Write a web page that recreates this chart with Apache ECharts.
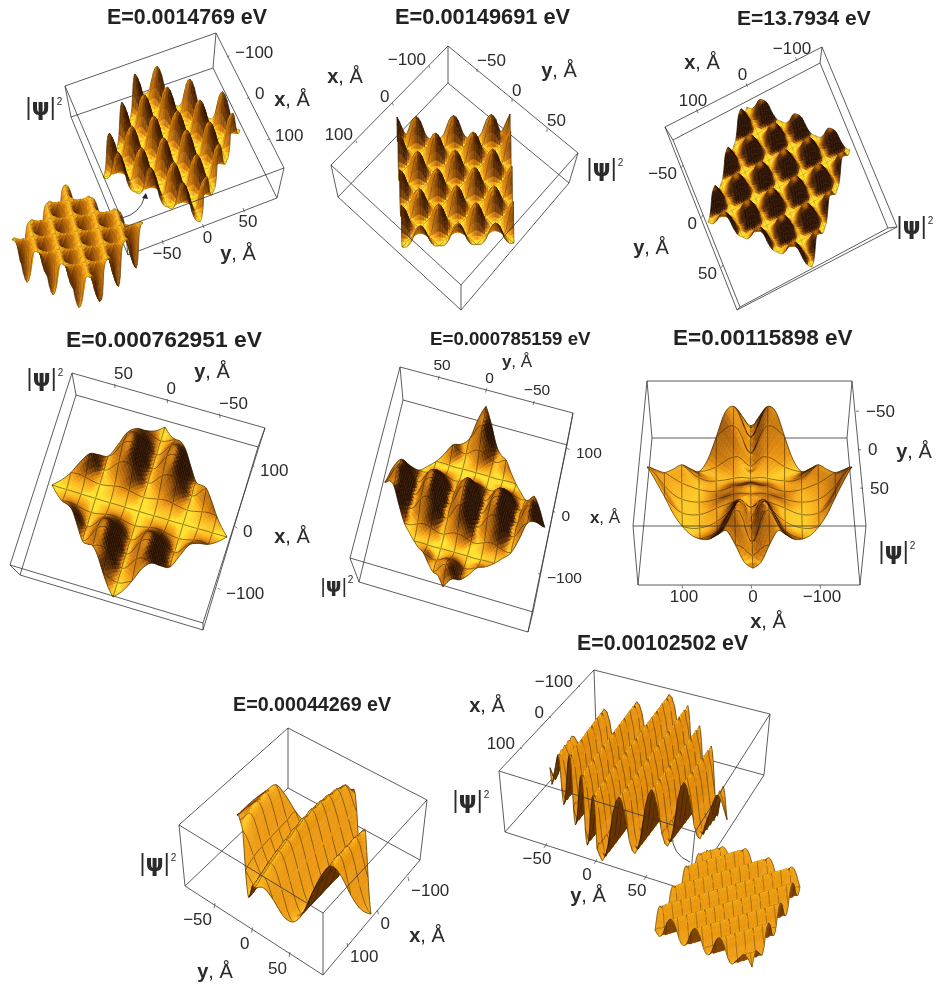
<!DOCTYPE html>
<html><head><meta charset="utf-8">
<style>html,body{margin:0;padding:0;background:#fff}#c{width:938px;height:985px}</style>
<script src="https://cdn.jsdelivr.net/npm/echarts@6/dist/echarts.min.js"></script>
</head><body><div id="c"></div>
<script>
// ---- read-off surface samples. digit rows: 0..9 of full height; number rows: 0..100 of full height
const surf1 = [
"0027972000279720002797200","0015751000157510001575100","2101210121012101210121012","7510001575100015751000157",
"9720002797200027972000279","7510001575100015751000157","2101210121012101210121012","0015751000157510001575100",
"0027972000268620002797200","0015751000157510001575100","2101210121012101210121012","7510001575100015751000157",
"9720002797200027972000279","7510001575100015751000157","2101210121012101210121012","0015751000157510001575100",
"0026862000279720002686200","0015751000157510001575100","2101210121012101210121012","7510001575100015751000157",
"8620002686200026862000268","7510001575100015751000157","2101210121012101210121012","0015751000157510001575100",
"0027972000279720002797200"];
const surf2 = [
"9527972000279720002797259","5015751000157510001575105","3101210121012101210121013","7510001575100015751000157",
"9720002797200027972000279","7510001575100015751000157","2101210121012101210121012","0015751000157510001575100",
"0027972000279720002797200","0015751000157510001575100","2101210121012101210121012","7510001575100015751000157",
"9720002797200027972000279","7510001575100015751000157","2101210121012101210121012","0015751000157510001575100",
"0026862000279720002686200","0015751000157510001575100","2101210121012101210121012","7510001575100015751000157",
"9720002797200027972000279","7510001575100015751000157","2101210121012101210121012","0015641000157510001465100",
"0026862000268620002686200"];
const surf3 = [
"0038983000389830003898300","0026862000268620002686200","3101310131013101310131013","8610001686100016861000168",
"9830003898300038983000389","8610001686100016861000168","3101310131013101310131013","0026862000268620002686200",
"0038983000389830003898300","0026862000268620002686200","3101310131013101310131013","8610001686100016861000168",
"9830003898300038983000389","8610001686100016861000168","3101310131013101310131013","0026862000268620002686200",
"0038983000389830003898300","0026862000268620002686200","3101310131013101310131013","8610001686100016861000168",
"9830003898300038983000389","8610001686100016861000168","3101310131013101310131013","0026862000268620002686200",
"0038983000389830003898300"];
const surf4 = [
[0,4,25,54,58,26,0,25,50,36,11,1,0],
[4,0,16,58,86,72,25,0,11,11,3,0,1],
[25,16,0,26,72,83,50,11,0,1,0,3,11],
[54,58,26,0,25,50,36,11,1,0,1,11,36],
[58,86,72,25,0,11,11,3,0,1,0,11,50],
[26,72,83,50,11,0,1,0,3,11,11,0,25],
[0,25,50,36,11,1,0,1,11,36,50,25,0],
[25,0,11,11,3,0,1,0,11,50,83,72,26],
[50,11,0,1,0,3,11,11,0,25,72,86,58],
[36,11,1,0,1,11,36,50,25,0,26,58,54],
[11,3,0,1,0,11,50,83,72,26,0,16,25],
[1,0,3,11,11,0,25,72,86,58,16,0,4],
[0,1,11,36,50,25,0,26,58,54,25,4,0]];
const surf5 = [
[95,64,15,11,25,10,0,0,3,36,76,63,28],
[64,76,43,7,2,0,0,11,10,15,68,95,63],
[15,43,33,7,0,0,11,48,57,18,19,68,76],
[11,7,7,0,0,3,10,57,90,71,18,15,36],
[25,2,0,0,14,36,15,18,71,90,57,10,4],
[10,0,0,3,36,76,68,19,18,57,48,14,1],
[0,0,11,10,15,68,95,68,15,10,14,3,0],
[0,11,48,57,18,19,68,76,36,4,1,0,5],
[3,10,57,90,71,18,15,36,19,2,0,1,18],
[36,15,18,71,90,57,10,4,2,0,4,5,10],
[76,68,19,18,57,48,14,1,0,4,24,36,10],
[63,95,68,15,10,14,3,0,1,5,36,52,29],
[28,63,76,36,4,1,0,5,18,10,10,29,19]];
const surf6 = [
[15,45,72,72,42,14,5,20,37,40,45,60,75],
[45,20,50,60,36,12,6,14,24,26,30,42,60],
[72,50,14,40,28,12,8,10,14,16,18,24,42],
[72,60,40,12,18,12,10,10,12,12,12,14,22],
[42,36,28,18,12,14,18,16,16,14,10,8,10],
[14,12,12,12,14,22,24,24,24,20,12,6,4],
[5,6,8,10,18,24,24,28,30,26,16,8,6],
[20,14,10,10,16,24,28,20,40,40,30,18,14],
[37,24,14,12,16,24,30,40,16,58,62,40,30],
[40,26,16,12,14,20,26,40,58,20,70,70,45],
[45,30,18,12,10,12,16,30,62,70,14,48,30],
[60,42,24,14,8,6,8,18,40,70,48,12,10],
[75,60,42,22,10,4,6,14,30,45,30,10,8]];
const surf7 = [
[37,50,62,72,80,60,32,12,5,20,40,56,58],
[50,62,72,80,60,32,12,5,20,46,68,80,60],
[55,72,80,60,32,12,5,22,50,74,88,72,45],
[60,76,60,32,12,5,22,50,78,92,76,48,18],
[62,58,32,12,5,22,52,80,96,80,50,20,6],
[45,30,12,5,22,52,80,98,80,50,20,6,20],
[22,12,5,22,52,80,98,80,50,20,6,20,52],
[8,5,22,50,78,96,80,50,20,6,20,55,78],
[4,20,48,76,92,80,50,20,6,20,55,82,92],
[18,44,72,88,78,50,20,6,20,55,82,95,70],
[40,66,82,76,48,20,6,20,55,82,95,75,38],
[62,76,72,48,20,6,20,55,82,95,75,40,14],
[70,68,46,18,6,18,52,80,92,72,38,14,5]];
const surf8 = [
"2024652027972027972027972","0246520279720279720279720","2465202797202797202797202","4652027972027972027972027",
"6520279720279720279720279","5202797202797202797202797","2027972027972027972027972","0279720279720279720279720",
"2797202797202797202797202","7972027972027972027972027","9720279720279720279720279","7202797202797202797202797",
"2027972027972027972027972","0279720279720279720279720","2797202797202797202797202","7972027972027972027972027",
"9720279720279720279720279","7202797202797202797202797","2027972027972027972027972","0279720279720279720279720",
"2797202797202797202797202","7972027972027972027972024","9720279720279720279720246","7202797202797202797202465",
"2027972027972027972024652"];

const titles = ["E=0.0014769 eV","E=0.00149691 eV","E=13.7934 eV","E=0.000762951 eV","E=0.000785159 eV","E=0.00115898 eV","E=0.00044269 eV","E=0.00102502 eV"];
const xTicks = [[-100,0,100],[-100,0,100],[100,0,-100],[100,0,-100],[100,0,-100],[100,0,-100],[-100,0,100],[-100,0,100]];
const yTicks = [[-50,0,50],[-50,0,50],[-50,0,50],[50,0,-50],[50,0,-50],[-50,0,50],[-50,0,50],[-50,0,50]];

// ---- layout and styling (pixels on the page)
const titleLayout = [[107,21,21.4],[395,21,21.8],[737,22,21],[66,343,22.8],[430,342,18.7],[673,341,22.5],[233,708,19.7],[577,647,21.3]];
const boxes = [
 {up:[[65,86],[216,33],[284,168],[125,227]],lo:[[71,117],[213,68],[277,198],[128,255]]},
 {up:[[448,46],[578,153],[461,285],[331,165]],lo:[[448,83],[569,183],[461,310],[338,197]]},
 {up:[[665,127],[822,47],[897,227],[737,310]],lo:[[673,140],[820,63],[888,228],[740,307]]},
 {up:[[72,373],[265,428],[203,623],[10,565]],lo:[[76,395],[258,447],[203,630],[20,575]]},
 {up:[[400,367],[573,413],[533,612],[350,558]],lo:[[403,400],[567,445],[528,632],[359,582]]},
 {up:[[647,381],[852,381],[866,526],[633,526]],lo:[[652,438],[847,438],[860,585],[638,585]]},
 {up:[[288,728],[427,800],[323,913],[179,825]],lo:[[288,788],[420,860],[323,975],[185,886]]},
 {up:[[594,670],[770,714],[695,832],[499,771]],lo:[[596,729],[764,775],[689,891],[505,832]]}];
// axis: first and last tick on the frame, label alignment and offset
const xAxes = [
 {a:[227,57],b:[267,140],al:'left',off:[8,-4],fs:17},{a:[430,68],b:[357,143],al:'right',off:[-4,-8],fs:17},
 {a:[698,113],b:[797,61],al:'center',off:[-5,-12],fs:17},{a:[252,465],b:[218,588],al:'left',off:[8,6],fs:17},
 {a:[567,448],b:[538,573],al:'left',off:[9,6],fs:15.5},{a:[682,585],b:[820,585],al:'center',off:[2,12],fs:17},
 {a:[408,877],b:[347,943],al:'left',off:[3,14],fs:17},{a:[580,687],b:[522,749],al:'right',off:[-7,-5],fs:17}];
const yAxes = [
 {a:[162,240],b:[243,208],al:'center',off:[5,14],fs:17},{a:[477,72],b:[547,132],al:'left',off:[0,-11],fs:17},
 {a:[683,165],b:[723,265],al:'right',off:[-6,9],fs:17},{a:[115,388],b:[220,418],al:'left',off:[-1,-14],fs:17},
 {a:[438,380],b:[533,405],al:'center',off:[4,-14],fs:15.5},{a:[856,411],b:[860,488],al:'left',off:[10,1],fs:17},
 {a:[215,903],b:[290,952],al:'right',off:[-3,17],fs:17},{a:[547,843],b:[647,875],al:'center',off:[-10,16],fs:17}];
const names = [
 [[292,100],[238,254],[44,109]],[[345,77],[559,71],[605,170]],[[702,63],[651,248],[915,228]],[[292,537],[212,372],[45,380]],
 [[605,518],[517,362],[337,587]],[[768,622],[914,452],[897,553]],[[427,936],[215,972],[158,865]],[[487,706],[588,896],[471,802]]];
// mesh: every n-th line along each of the two frame directions; l: lighting (v darkens faces seen edge-on or from behind)
const surfaces = [
 {rows:surf1,A:[142,92],B:[240,130],C:[103,177],D:[200,222],h:[-1,-32],sub:2,mesh:[4,4],ma:.3,l:{a:.34,b:1,x:.28,y:0,hk:.25,p:.7,k:1,v:0}},
 {rows:surf1,A:[65,185],B:[143,223],C:[12,240],D:[90,278],h:[2,36],sub:2,mesh:[8,8],ma:.3,l:{a:.4,b:.86,x:.28,y:0,hk:.1,p:1,k:1,v:0}},
 {rows:surf2,A:[397,140],B:[510,137],C:[402,247],D:[514,243],h:[0,-23],sub:2,mesh:[4,4],ma:.45,l:{a:.34,b:1,x:.28,y:0,hk:.25,p:.7,k:1.4,v:0}},
 {rows:surf3,A:[747,107],B:[850,150],C:[708,222],D:[812,267],h:[-1,-14],sub:3,mesh:[8,8],ma:.25,l:{a:.3,b:1,x:.25,y:.25,hk:.52,p:.35,k:2.2,v:0}},
 {rows:surf4,A:[165,427],B:[227,537],C:[52,485],D:[113,597],h:[0,-24],sub:4,mesh:[2,2],ma:.7,l:{a:.3,b:1,x:.36,y:0,hk:.46,p:.35,k:1.7,v:0}},
 {rows:surf5,A:[487,433],B:[545,535],C:[385,490],D:[443,592],h:[-1,-28],sub:4,mesh:[2,2],ma:.7,l:{a:.3,b:1,x:.36,y:0,hk:.46,p:.35,k:1.6,v:0}},
 {rows:surf6,A:[751,437],B:[852,512],C:[647,512],D:[753,573],h:[0,-60],sub:4,mesh:[2,2],ma:.7,l:{a:.55,b:1,x:-.18,y:0,hk:.3,p:.5,k:1,v:.75}},
 {rows:surf7,A:[237,837],B:[354,824],C:[254,930],D:[371,917],h:[0,-60],sub:4,mesh:[2,6],ma:.65,l:{a:.75,b:.88,x:.1,y:0,hk:0,p:1,k:1,v:.6}},
 {rows:surf8,A:[550,781],B:[680,752],C:[597,862],D:[727,833],h:[0,-60],sub:2,mesh:[3,12],ma:.6,l:{a:.74,b:.85,x:.08,y:0,hk:0,p:1,k:1,v:.55}},
 {rows:surf8,A:[707,855],B:[800,892],C:[655,935],D:[752,972],h:[0,-22],sub:2,mesh:[3,12],ma:.45,l:{a:.74,b:.85,x:.08,y:0,hk:0,p:1,k:1,v:.45}}
];
const arrows = [{p:[[122,218],[140,214],[145,196]],tip:[[146,193],[142,198],[148,199]]},{p:[[690,862],[672,855],[672,834]],tip:[[671,831],[669,837],[675,836]]}];

const font = '"Liberation Sans",Arial,sans-serif';
const ink = '#2b2b2b';
const ramp = [[0,[43,17,0]],[.25,[94,46,3]],[.5,[181,104,12]],[.7,[232,146,15]],[.85,[251,182,29]],[1,[255,226,46]]];
function shade(t){t=Math.max(0,Math.min(1,t));
  for(let i=1;i<ramp.length;i++){ if(t<=ramp[i][0]){const a=ramp[i-1],b=ramp[i],k=(t-a[0])/(b[0]-a[0]);
    return 'rgb('+a[1].map((v,n)=>Math.round(v+(b[1][n]-v)*k)).join(',')+')';}}
  return 'rgb(255,226,46)';}
function heights(rows){return rows.map(r=>typeof r==='string'?r.split('').map(d=>+d/9):r.map(v=>v/100));}
function cr(a,b,c,d,t){return .5*(2*b+(c-a)*t+(2*a-5*b+4*c-d)*t*t+(3*b-a-3*c+d)*t*t*t);}
// smooth drawing surface through the read samples, used only to draw the cells between them
function smoothField(H,S){const R=H.length,C=H[0].length,g=(r,c)=>H[Math.max(0,Math.min(R-1,r))][Math.max(0,Math.min(C-1,c))],F=[];
  for(let i=0;i<=(R-1)*S;i++){const r=Math.min(R-2,Math.floor(i/S)),u=i/S-r,row=[];
    for(let j=0;j<=(C-1)*S;j++){const c=Math.min(C-2,Math.floor(j/S)),v=j/S-c,k=[-1,0,1,2].map(d=>cr(g(r+d,c-1),g(r+d,c),g(r+d,c+1),g(r+d,c+2),v));
      row.push(Math.max(-.02,cr(k[0],k[1],k[2],k[3],u)));}
    F.push(row);}
  return F;}
function area(q){let s=0;for(let i=0;i<4;i++){const n=(i+1)%4;s+=q[i][0]*q[n][1]-q[n][0]*q[i][1];}return s/2;}
function surfaceSeries(s){const H=heights(s.rows),R=H.length,C=H[0].length,S=s.sub,F=smoothField(H,S),L=s.l;
  const eC=[(s.B[0]-s.A[0])/((C-1)*S),(s.B[1]-s.A[1])/((C-1)*S)],eR=[(s.C[0]-s.A[0])/((R-1)*S),(s.C[1]-s.A[1])/((R-1)*S)];
  const det=eC[0]*eR[1]-eC[1]*eR[0],hLen=Math.hypot(s.h[0],s.h[1]),sign=s.h[1]>0?-1:1;
  const P=(i,j)=>{const u=j/((C-1)*S),v=i/((R-1)*S),f=F[i][j];
    return [s.A[0]*(1-u)*(1-v)+s.B[0]*u*(1-v)+s.C[0]*(1-u)*v+s.D[0]*u*v+s.h[0]*f,
            s.A[1]*(1-u)*(1-v)+s.B[1]*u*(1-v)+s.C[1]*(1-u)*v+s.D[1]*u*v+s.h[1]*f];};
  const cells=[];for(let r=0;r<R-1;r++)for(let c=0;c<C-1;c++)cells.push([r,c,H[r][c]]);
  return {type:'custom',coordinateSystem:'cartesian2d',silent:true,clip:false,animation:false,progressive:0,data:cells,encode:{x:1,y:0},
    renderItem(p,api){const r=api.value(0),c=api.value(1),kids=[];
      for(let a=0;a<S;a++)for(let b=0;b<S;b++){const i=r*S+a,j=c*S+b;
        const zc=(F[i][j+1]+F[i+1][j+1]-F[i][j]-F[i+1][j])/2*hLen*sign,zr=(F[i+1][j]+F[i+1][j+1]-F[i][j]-F[i][j+1])/2*hLen*sign;
        const zx=L.k*(zc*eR[1]-zr*eC[1])/det,zy=L.k*(eC[0]*zr-eR[0]*zc)/det,len=Math.sqrt(1+zx*zx+zy*zy);
        const fm=Math.max(0,(F[i][j]+F[i+1][j+1]+F[i][j+1]+F[i+1][j])/4);
        const raw=[P(i,j),P(i,j+1),P(i+1,j+1),P(i+1,j)];
        const ratio=Math.max(0,Math.min(1,area(raw)/det));
        const col=shade(L.a+(L.b-L.a)/len+L.x*zx/len+L.y*zy/len-L.hk*Math.pow(fm,L.p)-L.v*(1-ratio));
        kids.push({type:'polygon',shape:{points:raw.map(q=>api.coord(q))},style:{fill:col,stroke:col,lineWidth:.5}});}
      const line=(pts,al)=>kids.push({type:'polyline',shape:{points:pts.map(q=>api.coord(q))},style:{fill:null,stroke:'rgba(35,20,0,'+al+')',lineWidth:.7}});
      const mod=(n,m)=>((n%m)+m)%m;
      if(mod(c-r,s.mesh[0])===0){const q=[];for(let a=0;a<=S;a++)q.push(P(r*S+a,c*S+a));line(q,s.ma);}
      if(mod(r+c+1,s.mesh[1])===0){const q=[];for(let a=0;a<=S;a++)q.push(P((r+1)*S-a,c*S+a));line(q,s.ma);}
      const edge=Math.min(.8,s.ma+.2);
      if(r===0){const q=[];for(let b=0;b<=S;b++)q.push(P(0,c*S+b));line(q,edge);}
      if(c===0){const q=[];for(let a=0;a<=S;a++)q.push(P(r*S+a,0));line(q,edge);}
      if(r===R-2){const q=[];for(let b=0;b<=S;b++)q.push(P((r+1)*S,c*S+b));line(q,edge);}
      if(c===C-2){const q=[];for(let a=0;a<=S;a++)q.push(P(r*S+a,(c+1)*S));line(q,edge);}
      return {type:'group',children:kids};}};}
function frameSeries(which){const segs=[];boxes.forEach(b=>{for(let i=0;i<4;i++){const n=(i+1)%4;
    if(which==='up')segs.push([...b.up[i],...b.up[n]]);
    else{segs.push([...b.lo[i],...b.lo[n]]);segs.push([...b.lo[i],...b.up[i]]);}}});
  return {type:'custom',coordinateSystem:'cartesian2d',silent:true,clip:false,animation:false,data:segs,encode:{x:0,y:1},
    renderItem(p,api){const a=api.coord([api.value(0),api.value(1)]),b=api.coord([api.value(2),api.value(3)]);
      return {type:'line',shape:{x1:a[0],y1:a[1],x2:b[0],y2:b[1]},style:{stroke:'#333',lineWidth:.8}};}};}
function tickSeries(t,ax){const v0=t[0],v1=t[t.length-1];
  const at=v=>{const k=(v-v0)/(v1-v0);return [ax.a[0]+(ax.b[0]-ax.a[0])*k,ax.a[1]+(ax.b[1]-ax.a[1])*k];};
  return {type:'custom',coordinateSystem:'cartesian2d',silent:true,clip:false,animation:false,data:t.map(v=>[v]),encode:{x:0},
    renderItem(p,api){const v=api.value(0),q=at(v),c=api.coord(q),d=api.coord([q[0]+ax.off[0]*.3,q[1]+ax.off[1]*.3]),l=api.coord([q[0]+ax.off[0],q[1]+ax.off[1]]);
      return {type:'group',children:[{type:'line',shape:{x1:c[0],y1:c[1],x2:d[0],y2:d[1]},style:{stroke:'#444',lineWidth:.7}},
        {type:'text',x:l[0],y:l[1],style:{text:(v<0?'\u2212'+(-v):''+v),fill:ink,font:ax.fs+'px '+font,align:ax.al,verticalAlign:'middle'}}]};}};}
function nameText(letter,pos,fs){return {type:'text',x:pos[0],y:pos[1],silent:true,style:{text:'{b|'+letter+'}{n|, Å}',align:'center',verticalAlign:'middle',
    rich:{b:{font:'bold '+fs+'px '+font,fill:ink},n:{font:fs+'px '+font,fill:ink}}}};}
function psiText(pos,fs){return {type:'text',x:pos[0],y:pos[1],silent:true,style:{text:'{n|\u007c}{p|ψ}{n|\u007c}{s|2}',align:'center',verticalAlign:'middle',
    rich:{p:{font:'bold '+fs+'px "DejaVu Sans",'+font,fill:ink},n:{font:fs+'px '+font,fill:ink},s:{font:'10px '+font,fill:ink,padding:[0,0,13,1]}}}};}

const graphics=[];
names.forEach((n,i)=>{const fs=i===4?17:20;graphics.push(nameText('x',n[0],fs),nameText('y',n[1],fs),psiText(n[2],i===4?20:23));});
arrows.forEach(a=>{graphics.push({type:'bezierCurve',silent:true,shape:{x1:a.p[0][0],y1:a.p[0][1],cpx1:a.p[1][0],cpy1:a.p[1][1],x2:a.p[2][0],y2:a.p[2][1]},style:{stroke:'#222',fill:null,lineWidth:.8}});
  graphics.push({type:'polygon',silent:true,shape:{points:a.tip},style:{fill:'#222'}});});

const chart=echarts.init(document.getElementById('c'),null,{renderer:'canvas'});
chart.setOption({animation:false,backgroundColor:'#fff',
  title:titles.map((t,i)=>({text:t,left:titleLayout[i][0],top:titleLayout[i][1]-titleLayout[i][2]*.62,padding:0,textStyle:{fontFamily:font,fontWeight:'bold',fontSize:titleLayout[i][2],color:'#222'}})),
  grid:{left:0,right:0,top:0,bottom:0},
  xAxis:{type:'value',min:0,max:938,show:false},
  yAxis:{type:'value',min:0,max:985,inverse:true,show:false},
  series:[frameSeries('lo'),...surfaces.map(surfaceSeries),frameSeries('up'),...xTicks.map((t,i)=>tickSeries(t,xAxes[i])),...yTicks.map((t,i)=>tickSeries(t,yAxes[i]))],
  graphic:{elements:graphics}});
</script></body></html>
